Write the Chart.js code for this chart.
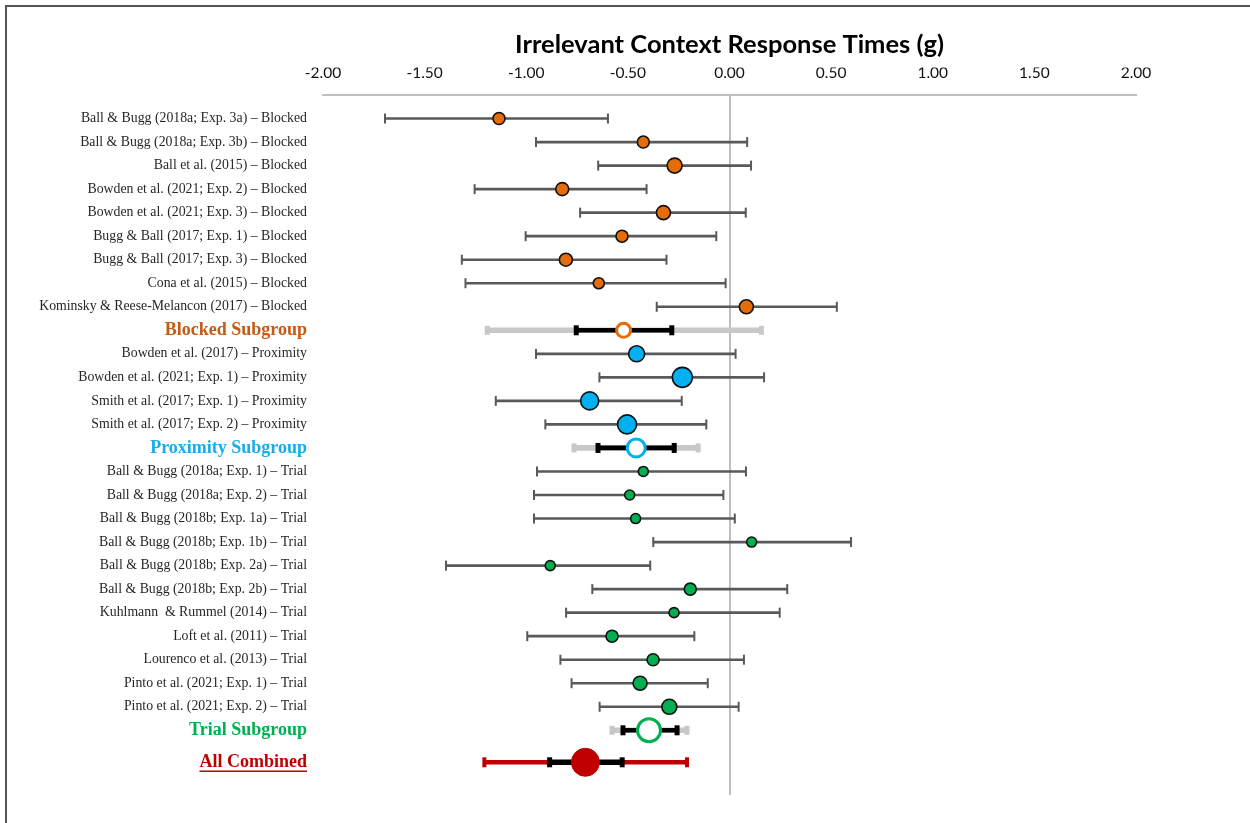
<!DOCTYPE html>
<html>
<head>
<meta charset="utf-8">
<script src="https://cdn.jsdelivr.net/npm/chart.js@4"></script>
<style>
  html, body { margin: 0; padding: 0; background: #fff; overflow: hidden; }
  #wrap { position: relative; width: 1250px; height: 823px; }
  #frame { position: absolute; left: 5px; top: 5px; width: 1245px; height: 818px; box-sizing: border-box;
           border-top: 2px solid #555; border-left: 2px solid #555; pointer-events: none; }
  canvas { position: absolute; left: 0; top: 0; }
</style>
</head>
<body>
<div id="wrap">
  <canvas id="c" width="1250" height="823"></canvas>
  <div id="frame"></div>
</div>
<script>
// ---------------- DATA ----------------
const xTicks = [-2, -1.5, -1, -0.5, 0, 0.5, 1, 1.5, 2];

const blockedStudies = [
  'Ball & Bugg (2018a; Exp. 3a) \u2013 Blocked',
  'Ball & Bugg (2018a; Exp. 3b) \u2013 Blocked',
  'Ball et al. (2015) \u2013 Blocked',
  'Bowden et al. (2021; Exp. 2) \u2013 Blocked',
  'Bowden et al. (2021; Exp. 3) \u2013 Blocked',
  'Bugg & Ball (2017; Exp. 1) \u2013 Blocked',
  'Bugg & Ball (2017; Exp. 3) \u2013 Blocked',
  'Cona et al. (2015) \u2013 Blocked',
  'Kominsky & Reese-Melancon (2017) \u2013 Blocked'
];
const blockedG  = [-1.134, -0.424, -0.270, -0.823, -0.325, -0.529, -0.805, -0.643, 0.083];
const blockedLo = [-1.695, -0.952, -0.646, -1.254, -0.735, -1.003, -1.317, -1.299, -0.358];
const blockedHi = [-0.598, 0.087, 0.106, -0.408, 0.080, -0.065, -0.310, -0.019, 0.528];
const blockedWeight = [6, 6, 7.5, 6.5, 7, 6, 6.5, 5.5, 7];

const proximityStudies = [
  'Bowden et al. (2017) \u2013 Proximity',
  'Bowden et al. (2021; Exp. 1) \u2013 Proximity',
  'Smith et al. (2017; Exp. 1) \u2013 Proximity',
  'Smith et al. (2017; Exp. 2) \u2013 Proximity'
];
const proximityG  = [-0.457, -0.232, -0.688, -0.504];
const proximityLo = [-0.952, -0.640, -1.150, -0.906];
const proximityHi = [0.030, 0.170, -0.235, -0.114];
const proximityWeight = [8, 10, 9, 9.5];

const trialStudies = [
  'Ball & Bugg (2018a; Exp. 1) \u2013 Trial',
  'Ball & Bugg (2018a; Exp. 2) \u2013 Trial',
  'Ball & Bugg (2018b; Exp. 1a) \u2013 Trial',
  'Ball & Bugg (2018b; Exp. 1b) \u2013 Trial',
  'Ball & Bugg (2018b; Exp. 2a) \u2013 Trial',
  'Ball & Bugg (2018b; Exp. 2b) \u2013 Trial',
  'Kuhlmann  & Rummel (2014) \u2013 Trial',
  'Loft et al. (2011) \u2013 Trial',
  'Lourenco et al. (2013) \u2013 Trial',
  'Pinto et al. (2021; Exp. 1) \u2013 Trial',
  'Pinto et al. (2021; Exp. 2) \u2013 Trial'
];
const trialG  = [-0.424, -0.491, -0.462, 0.109, -0.882, -0.193, -0.273, -0.578, -0.376, -0.440, -0.296];
const trialLo = [-0.947, -0.962, -0.962, -0.375, -1.395, -0.675, -0.804, -0.995, -0.832, -0.777, -0.639];
const trialHi = [0.081, -0.030, 0.026, 0.598, -0.390, 0.284, 0.247, -0.173, 0.071, -0.107, 0.045];
const trialWeight = [5, 5, 5, 5, 5, 6, 5, 6, 6, 7, 7.5];

const subgroupLabels = ['Blocked Subgroup', 'Proximity Subgroup', 'Trial Subgroup'];
const subgroupG    = [-0.521, -0.459, -0.396];
const subgroupCiLo = [-0.754, -0.647, -0.524];
const subgroupCiHi = [-0.284, -0.272, -0.258];
const subgroupPiLo = [-1.192, -0.765, -0.578];
const subgroupPiHi = [0.157, -0.154, -0.209];

const overallLabel = 'All Combined';
const overallG = -0.709;
const overallCiLo = -0.885;
const overallCiHi = -0.528;
const overallPiLo = -1.206;
const overallPiHi = -0.209;

// ---------------- STYLE ----------------
const groupColors = ['#E46C0A', '#00B0F0', '#00B050'];
const labelColors = ['#C55A11', '#1AACE8', '#00B050'];
const overallColor = '#C00000';
const TOTAL_GAP = 0.36;
const LABEL_FONT = 'Liberation Serif';

// ---------------- BUILD ROWS ----------------
const groups = [
  { studies: blockedStudies, g: blockedG, lo: blockedLo, hi: blockedHi, w: blockedWeight },
  { studies: proximityStudies, g: proximityG, lo: proximityLo, hi: proximityHi, w: proximityWeight },
  { studies: trialStudies, g: trialG, lo: trialLo, hi: trialHi, w: trialWeight }
];
const rows = [];
let idx = 0;
const studyPoints = [[], [], []];
const studyRadius = [[], [], []];
const studyBars = [];
const studyCaps = [];
const subPoints = [], subCiBars = [], subPiBars = [], subCiCaps = [], subPiCaps = [];
groups.forEach((grp, gi) => {
  grp.studies.forEach((s, i) => {
    rows.push({ label: s, y: idx, kind: 'study', group: gi });
    studyPoints[gi].push({ x: grp.g[i], y: idx });
    studyRadius[gi].push(grp.w[i]);
    studyBars.push({ y: idx, x: [grp.lo[i], grp.hi[i]] });
    studyCaps.push({ x: grp.lo[i], y: idx }, { x: grp.hi[i], y: idx });
    idx++;
  });
  rows.push({ label: subgroupLabels[gi], y: idx, kind: 'sub', group: gi });
  subPoints.push({ x: subgroupG[gi], y: idx });
  subCiBars.push({ y: idx, x: [subgroupCiLo[gi], subgroupCiHi[gi]] });
  subPiBars.push({ y: idx, x: [subgroupPiLo[gi], subgroupPiHi[gi]] });
  subCiCaps.push({ x: subgroupCiLo[gi], y: idx }, { x: subgroupCiHi[gi], y: idx });
  subPiCaps.push({ x: subgroupPiLo[gi], y: idx }, { x: subgroupPiHi[gi], y: idx });
  idx++;
});
const overallY = idx + TOTAL_GAP;
rows.push({ label: overallLabel, y: overallY, kind: 'total' });

const subRadius = [7, 9, 11.5];

function rowAt(v) { return rows.find(r => Math.abs(r.y - v) < 1e-6); }
function rowFromCtx(c) { return (c && c.tick) ? rowAt(c.tick.value) : null; }

const underlinePlugin = {
  id: 'underline',
  afterDraw(chart) {
    const ys = chart.scales.y;
    const ctx = chart.ctx;
    const py = ys.getPixelForValue(overallY);
    ctx.save();
    ctx.font = 'bold 18px "' + LABEL_FONT + '"';
    const w = ctx.measureText(overallLabel).width;
    const right = ys.right - 16;
    ctx.strokeStyle = overallColor;
    ctx.lineWidth = 1.5;
    ctx.beginPath();
    ctx.moveTo(right - w, py + 9);
    ctx.lineTo(right, py + 9);
    ctx.stroke();
    ctx.restore();
  }
};

const capBase = { type: 'scatter', pointStyle: 'line', rotation: 90, showLine: false };

new Chart(document.getElementById('c'), {
  type: 'bar',
  data: {
    datasets: [
      ...groups.map((g, gi) => ({
        type: 'scatter', data: studyPoints[gi], order: 0,
        pointRadius: studyRadius[gi], pointHoverRadius: studyRadius[gi],
        backgroundColor: groupColors[gi], borderColor: '#111', borderWidth: 1.6
      })),
      {
        type: 'scatter', data: subPoints, order: 0,
        pointRadius: subRadius, pointHoverRadius: subRadius,
        backgroundColor: '#fff', borderColor: groupColors, borderWidth: 3
      },
      {
        type: 'scatter', data: [{ x: overallG, y: overallY }], order: 0,
        pointRadius: 14, backgroundColor: overallColor, borderColor: overallColor, borderWidth: 1
      },
      { ...capBase, data: studyCaps, order: 1, pointRadius: 5, borderColor: '#595959', borderWidth: 2 },
      { ...capBase, data: subCiCaps, order: 1, pointRadius: 5, borderColor: '#000', borderWidth: 5 },
      { ...capBase, data: subPiCaps, order: 3, pointRadius: 4.5, borderColor: '#C8C8C8', borderWidth: 5 },
      { ...capBase, data: [{ x: overallCiLo, y: overallY }, { x: overallCiHi, y: overallY }], order: 1,
        pointRadius: 5, borderColor: '#000', borderWidth: 5 },
      { ...capBase, data: [{ x: overallPiLo, y: overallY }, { x: overallPiHi, y: overallY }], order: 3,
        pointRadius: 5, borderColor: overallColor, borderWidth: 4 },
      { type: 'bar', data: studyBars, order: 2, grouped: false, barThickness: 2, backgroundColor: '#595959' },
      { type: 'bar', data: subCiBars, order: 2, grouped: false, barThickness: 4, backgroundColor: '#000' },
      { type: 'bar', data: subPiBars, order: 4, grouped: false, barThickness: 5, backgroundColor: '#C8C8C8' },
      { type: 'bar', data: [{ y: overallY, x: [overallCiLo, overallCiHi] }], order: 2, grouped: false,
        barThickness: 5, backgroundColor: '#000' },
      { type: 'bar', data: [{ y: overallY, x: [overallPiLo, overallPiHi] }], order: 4, grouped: false,
        barThickness: 4, backgroundColor: overallColor }
    ]
  },
  options: {
    indexAxis: 'y',
    responsive: false,
    animation: false,
    events: [],
    layout: { padding: { left: 0, right: 114, top: 0, bottom: 28 } },
    plugins: {
      legend: { display: false },
      tooltip: { enabled: false },
      title: {
        display: true, fullSize: false,
        text: 'Irrelevant Context Response Times (g)',
        color: '#000',
        font: { family: 'Lato', size: 25.5, weight: 'bold' },
        padding: { top: 29, bottom: 8 }
      }
    },
    scales: {
      x: {
        type: 'linear', position: 'top', min: -2, max: 2,
        afterBuildTicks: (s) => { s.ticks = xTicks.map(v => ({ value: v })); },
        afterFit: (s) => { s.height = 27.4; },
        ticks: {
          color: '#111', padding: 13,
          font: { family: 'Lato', size: 15.5 },
          callback: (v) => Number(v).toFixed(2)
        },
        grid: {
          drawTicks: false,
          color: (c) => (c && c.tick && c.tick.value === 0 ? '#BFBFBF' : 'rgba(0,0,0,0)'),
          lineWidth: 2
        },
        border: { display: true, color: '#BFBFBF', width: 2 }
      },
      y: {
        type: 'linear', reverse: true, min: -1, max: 28.75, offset: false,
        afterBuildTicks: (s) => { s.ticks = rows.map(r => ({ value: r.y })); },
        afterFit: (s) => { s.width = 323; },
        ticks: {
          padding: 16, autoSkip: false,
          callback: (v) => { const r = rowAt(v); return r ? r.label : ''; },
          color: (c) => {
            const r = rowFromCtx(c);
            if (!r) return '#262626';
            if (r.kind === 'sub') return labelColors[r.group];
            if (r.kind === 'total') return overallColor;
            return '#262626';
          },
          font: (c) => {
            const r = rowFromCtx(c);
            if (r && r.kind !== 'study') return { family: LABEL_FONT, size: 18, weight: 'bold' };
            return { family: LABEL_FONT, size: 13.8 };
          }
        },
        grid: { display: false, drawTicks: false, offset: false },
        border: { display: false }
      }
    }
  },
  plugins: [underlinePlugin]
});
</script>
</body>
</html>
